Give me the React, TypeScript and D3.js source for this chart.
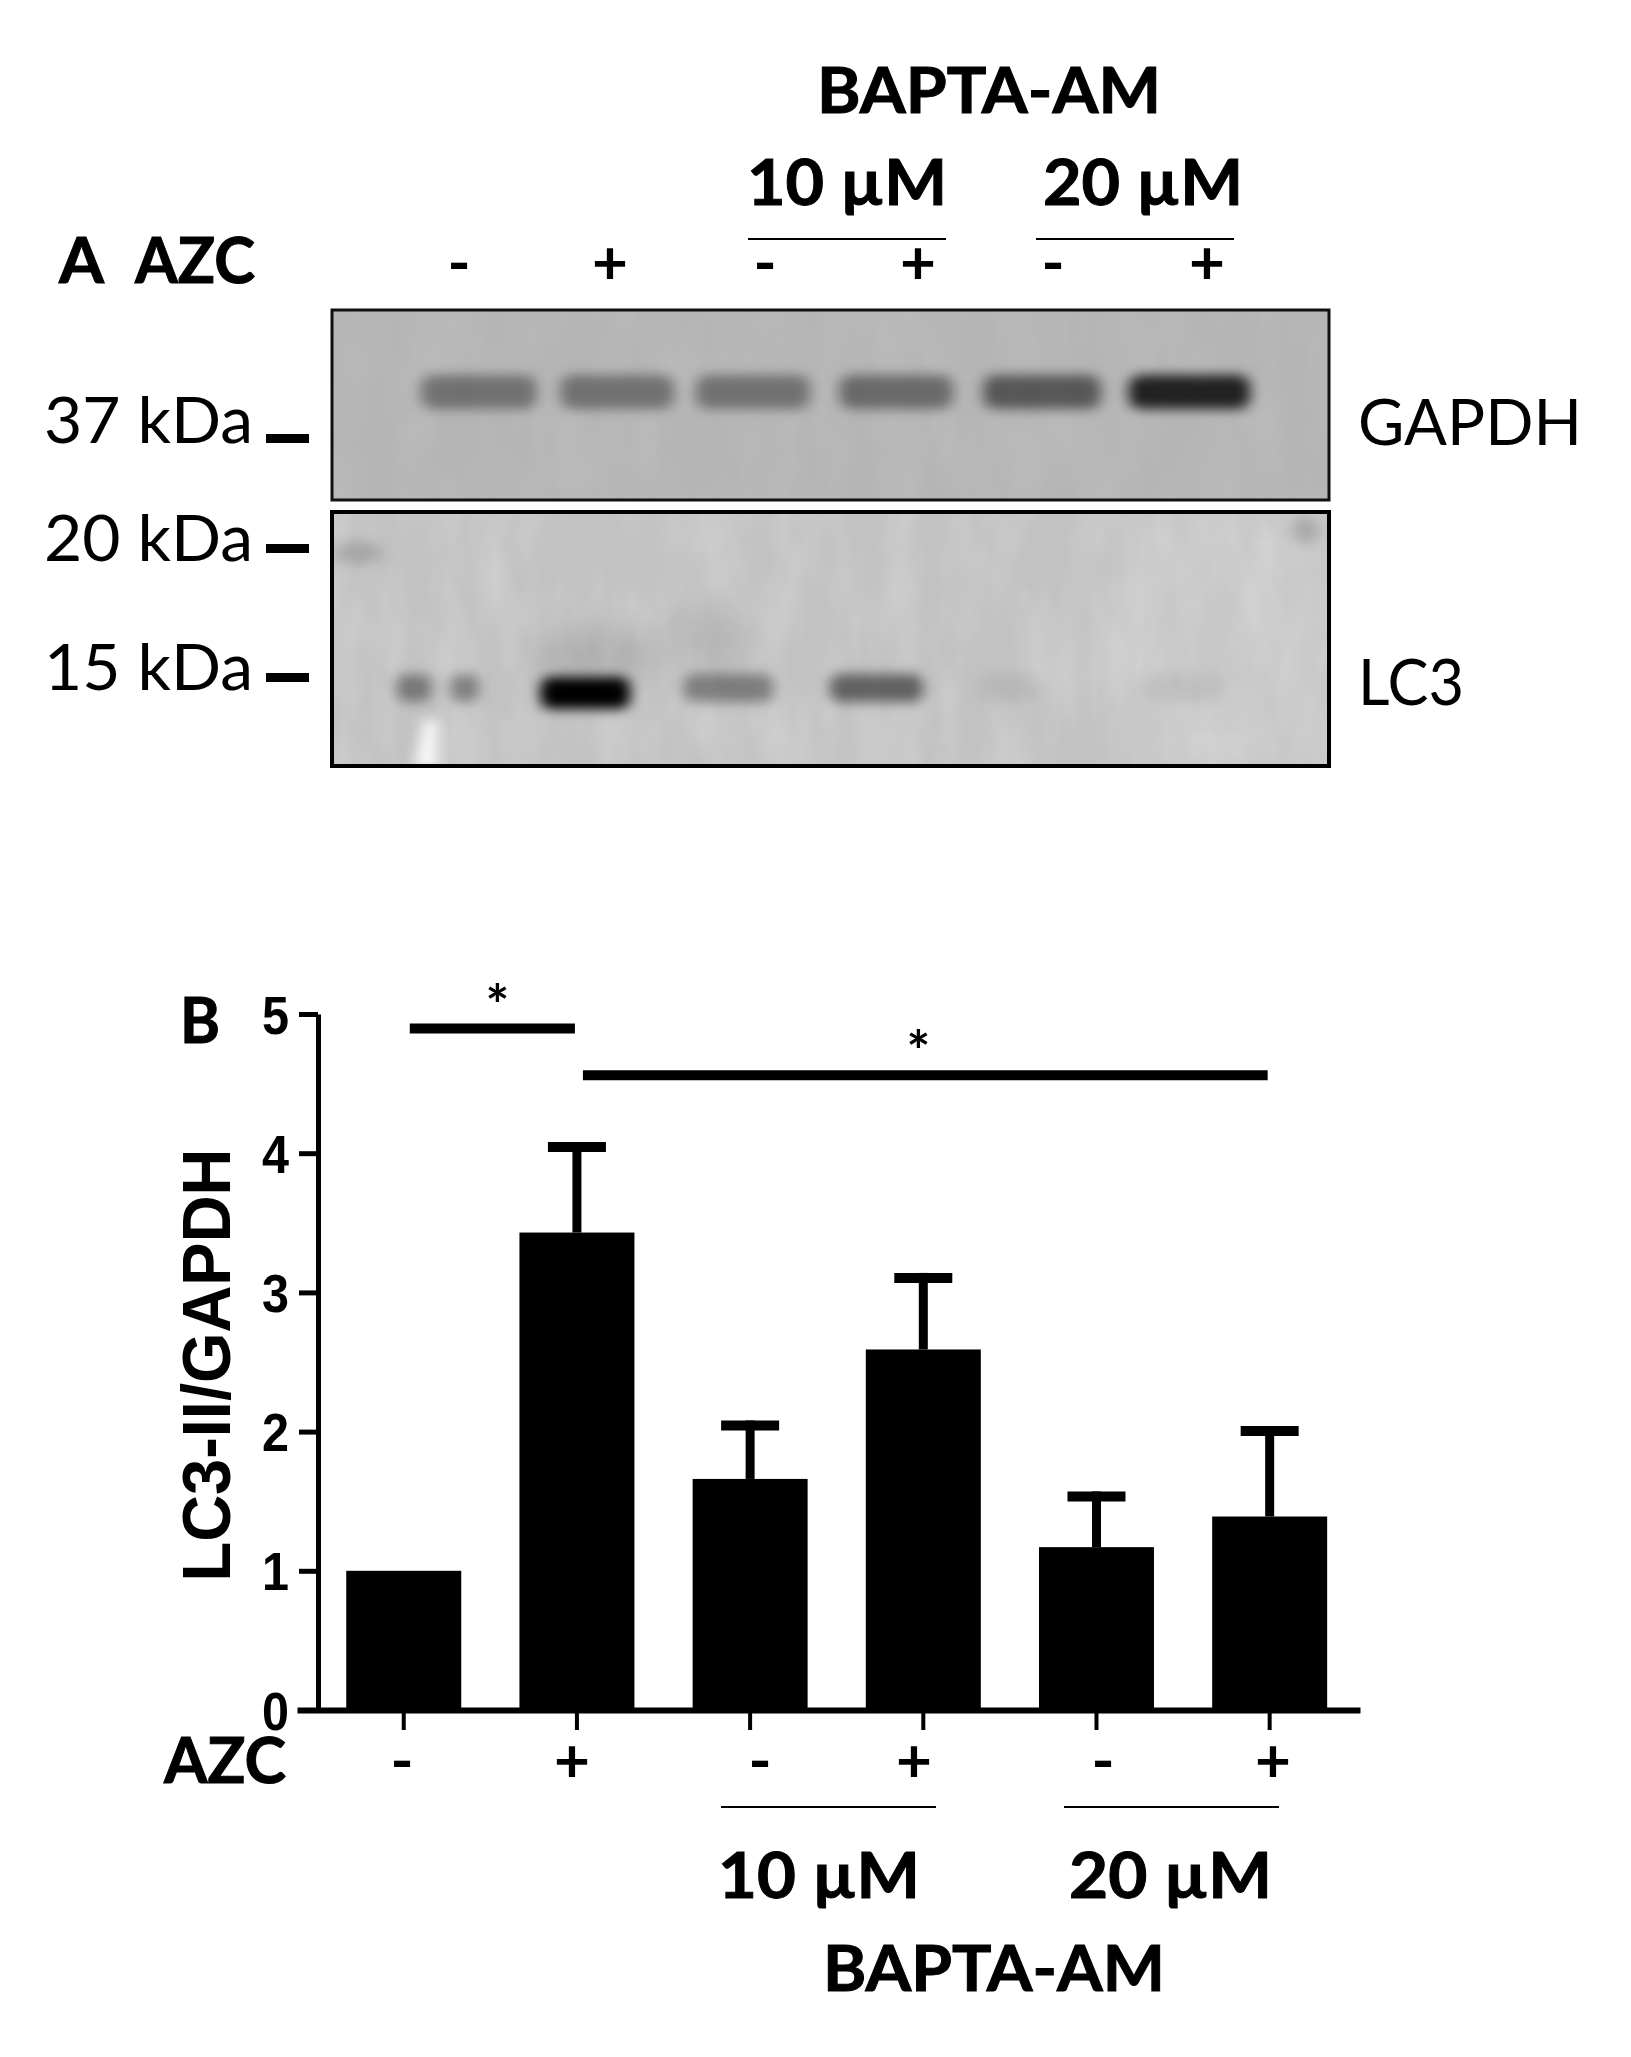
import React, { useEffect, useRef } from "react";
import { select, scaleBand, scaleLinear, axisLeft, axisBottom } from "d3";

// panel B values
const groups = ["ctrl", "azc", "b10", "b10azc", "b20", "b20azc"];
const means = [1.0, 3.43, 1.66, 2.59, 1.17, 1.39];
const upper = [null, 4.08, 2.08, 3.14, 1.57, 2.04];
const yTicks = [0, 1, 2, 3, 4, 5];
const signs = ["-", "+", "-", "+", "-", "+"];

// significance bars: [from group, to group, level]
const sigBars: [string, string, number][] = [
  ["ctrl", "azc", 4.895],
  ["azc", "b20azc", 4.56],
];

// panel A bands: lane centre and width in % of blot width, darkness 0-1
const gapdhCentre = [14.7, 28.6, 42.2, 56.6, 71.2, 86];
const gapdhWidth = [11.6, 11.4, 11.4, 11.4, 11.8, 12.2];
const gapdhDark = [0.38, 0.38, 0.38, 0.42, 0.52, 0.82];
const lc3Centre = [8.2, 13.3, 25.4, 39.8, 54.6, 68, 85.5];
const lc3Width = [3.6, 2.9, 9, 9, 9.4, 6, 8];
const lc3Dark = [0.38, 0.36, 1, 0.36, 0.5, 0.06, 0.06];

const W = 1631;
const H = 2057;

const calibri = "Lato, Carlito, Calibri, sans-serif";

function Label({ x, y, width, size = 64, bold = true, children }: any) {
  return (
    <text
      x={x}
      y={y}
      fontFamily={calibri}
      fontSize={size}
      fontWeight={bold ? 700 : 400}
      textLength={width}
      lengthAdjust="spacingAndGlyphs"
      fill="#000"
      stroke={bold ? "#000" : "none"}
      strokeWidth={bold ? 1 : 0}
    >
      {children}
    </text>
  );
}

function Sign({ x, y, children }: any) {
  return (
    <text x={x} y={y} textAnchor="middle" fontFamily={calibri} fontSize={62} fontWeight={700} fill="#000">
      {children}
    </text>
  );
}

export default function App() {
  const xAxisRef = useRef<SVGGElement>(null);
  const yAxisRef = useRef<SVGGElement>(null);

  const x = scaleBand()
    .domain(groups)
    .range([297, 1360])
    .paddingInner(0.336)
    .paddingOuter(0.237)
    .align(0.6);
  const y = scaleLinear().domain([0, 5]).range([1710, 1014]);
  const blotX = scaleLinear().domain([0, 100]).range([332, 1329]);

  useEffect(() => {
    const gy = select(yAxisRef.current);
    gy.call(axisLeft(y).tickValues(yTicks).tickFormat((d: any) => String(d)).tickSize(19).tickSizeOuter(0).tickPadding(10) as any);
    gy.select(".domain").attr("stroke", "#000").attr("stroke-width", 5);
    gy.selectAll(".tick line").attr("stroke", "#000").attr("stroke-width", 5);
    gy.selectAll(".tick text")
      .attr("font-family", "'Liberation Sans', Arial, sans-serif")
      .attr("font-size", 54)
      .attr("font-weight", 700)
      .attr("fill", "#000")
      .attr("dy", 19)
      .attr("textLength", 27)
      .attr("lengthAdjust", "spacingAndGlyphs");

    const gx = select(xAxisRef.current);
    gx.call(axisBottom(x).tickSize(20).tickSizeOuter(0).tickFormat(() => "") as any);
    gx.select(".domain").attr("stroke", "#000").attr("stroke-width", 6);
    gx.selectAll(".tick line").attr("stroke", "#000").attr("stroke-width", 4);
  }, []);

  const bw = x.bandwidth();
  const cx = (g: string) => (x(g) as number) + bw / 2;

  return (
    <svg width={W} height={H} viewBox={`0 0 ${W} ${H}`} style={{ position: "absolute", left: 0, top: 0, background: "#fff" }}>
      <defs>
        <filter id="soft" x="-40%" y="-100%" width="180%" height="300%">
          <feGaussianBlur stdDeviation="7 6" />
        </filter>
        <filter id="softer" x="-60%" y="-60%" width="220%" height="220%">
          <feGaussianBlur stdDeviation="14" />
        </filter>
        <filter id="mottle" x="0" y="0" width="100%" height="100%">
          <feTurbulence type="fractalNoise" baseFrequency="0.025 0.01" numOctaves={3} seed={4} />
          <feColorMatrix values="0 0 0 0 1  0 0 0 0 1  0 0 0 0 1  0.9 0 0 0 -0.3" />
        </filter>
        <clipPath id="clipTop">
          <rect x={332} y={310} width={997} height={190} />
        </clipPath>
        <clipPath id="clipBottom">
          <rect x={332} y={512} width={997} height={254} />
        </clipPath>
      </defs>

      {/* panel A header */}
      <Label x={817} y={113} width={344}>BAPTA-AM</Label>
      <Label x={747} y={205} width={200}>10 µM</Label>
      <Label x={1043} y={205} width={200}>20 µM</Label>
      <line x1={748} x2={946} y1={239} y2={239} stroke="#000" strokeWidth={2} />
      <line x1={1036} x2={1234} y1={239} y2={239} stroke="#000" strokeWidth={2} />
      <Label x={59} y={283} width={45}>A</Label>
      <Label x={135} y={283} width={120}>AZC</Label>
      <Sign x={459} y={284}>-</Sign>
      <Sign x={610} y={284}>+</Sign>
      <Sign x={765} y={284}>-</Sign>
      <Sign x={918} y={284}>+</Sign>
      <Sign x={1053} y={284}>-</Sign>
      <Sign x={1207} y={284}>+</Sign>

      {/* GAPDH blot */}
      <g clipPath="url(#clipTop)">
        <rect x={332} y={310} width={997} height={190} fill="#b5b5b5" />
        <rect x={332} y={310} width={997} height={190} filter="url(#mottle)" opacity={0.15} />
        {gapdhCentre.map((c, i) => (
          <g key={i} filter="url(#soft)">
            <rect
              x={blotX(c - gapdhWidth[i] / 2)}
              y={375}
              width={blotX(gapdhWidth[i]) - blotX(0)}
              height={34}
              rx={12}
              fill="#000"
              opacity={gapdhDark[i]}
            />
          </g>
        ))}
      </g>
      <rect x={332} y={310} width={997} height={190} fill="none" stroke="#111" strokeWidth={3} />

      {/* LC3 blot */}
      <g clipPath="url(#clipBottom)">
        <rect x={332} y={512} width={997} height={254} fill="#c2c2c2" />
        <rect x={332} y={512} width={997} height={254} filter="url(#mottle)" opacity={0.4} />
        <rect x={1110} y={512} width={219} height={254} fill="#fff" opacity={0.1} filter="url(#softer)" />
        <ellipse cx={590} cy={655} rx={60} ry={30} fill="#000" opacity={0.1} filter="url(#softer)" />
        <ellipse cx={700} cy={640} rx={40} ry={35} fill="#000" opacity={0.06} filter="url(#softer)" />
        {lc3Centre.map((c, i) => (
          <g key={i} filter="url(#soft)">
            <rect
              x={blotX(c - lc3Width[i] / 2)}
              y={i === 2 ? 677 : 674}
              width={blotX(lc3Width[i]) - blotX(0)}
              height={i === 2 ? 32 : 28}
              rx={10}
              fill="#000"
              opacity={lc3Dark[i]}
            />
          </g>
        ))}
        <ellipse cx={358} cy={553} rx={24} ry={12} fill="#888" opacity={0.5} filter="url(#soft)" />
        <ellipse cx={1306} cy={530} rx={14} ry={14} fill="#888" opacity={0.5} filter="url(#soft)" />
        <path d="M414 768 L424 718 L438 720 L438 768 Z" fill="#fff" opacity={0.9} filter="url(#soft)" />
      </g>
      <rect x={332} y={512} width={997} height={254} fill="none" stroke="#000" strokeWidth={4} />

      {/* markers */}
      <Label x={44} y={443} width={209} bold={false}>37 kDa</Label>
      <Label x={44} y={561} width={209} bold={false}>20 kDa</Label>
      <Label x={44} y={690} width={209} bold={false}>15 kDa</Label>
      <rect x={266} y={434} width={43} height={9} fill="#000" />
      <rect x={266} y={544} width={43} height={9} fill="#000" />
      <rect x={266} y={673} width={43} height={9} fill="#000" />
      <Label x={1358} y={445} width={224} bold={false}>GAPDH</Label>
      <Label x={1358} y={705} width={106} bold={false}>LC3</Label>

      {/* panel B */}
      <Label x={180} y={1043} width={40}>B</Label>
      <text
        transform={`translate(230,1365) rotate(-90)`}
        textAnchor="middle"
        fontFamily="'Liberation Sans', Arial, sans-serif"
        fontSize={69}
        fontWeight={700}
        textLength={433}
        lengthAdjust="spacingAndGlyphs"
      >
        LC3-II/GAPDH
      </text>

      {groups.map((g, i) => (
        <g key={g}>
          {upper[i] !== null && (
            <>
              <line x1={cx(g)} x2={cx(g)} y1={y(means[i])} y2={y(upper[i] as number)} stroke="#000" strokeWidth={9} />
              <line
                x1={cx(g) - 29}
                x2={cx(g) + 29}
                y1={y(upper[i] as number) + 5}
                y2={y(upper[i] as number) + 5}
                stroke="#000"
                strokeWidth={10}
              />
            </>
          )}
          <rect x={x(g)} y={y(means[i])} width={bw} height={y(0) - y(means[i])} fill="#000" />
        </g>
      ))}

      {sigBars.map(([a, b, level]) => (
        <g key={a}>
          <line x1={cx(a) + 6} x2={cx(b) - 2} y1={y(level)} y2={y(level)} stroke="#000" strokeWidth={10} />
          <text
            x={(cx(a) + cx(b)) / 2 + (a === "ctrl" ? 7 : -5)}
            y={y(level) - 4}
            textAnchor="middle"
            fontFamily={calibri}
            fontSize={56}
            fontWeight={700}
          >
            *
          </text>
        </g>
      ))}

      <g ref={yAxisRef} transform="translate(318,0)" />
      <g ref={xAxisRef} transform="translate(0,1710)" />

      <Label x={164} y={1783} width={122}>AZC</Label>
      {groups.map((g, i) => (
        <Sign key={g} x={[402, 572, 760, 914, 1103, 1273][i]} y={1782}>
          {signs[i]}
        </Sign>
      ))}
      <line x1={721} x2={936} y1={1807} y2={1807} stroke="#000" strokeWidth={2} />
      <line x1={1064} x2={1279} y1={1807} y2={1807} stroke="#000" strokeWidth={2} />
      <Label x={718} y={1898} width={202}>10 µM</Label>
      <Label x={1069} y={1898} width={203}>20 µM</Label>
      <Label x={823} y={1991} width={342}>BAPTA-AM</Label>
    </svg>
  );
}
